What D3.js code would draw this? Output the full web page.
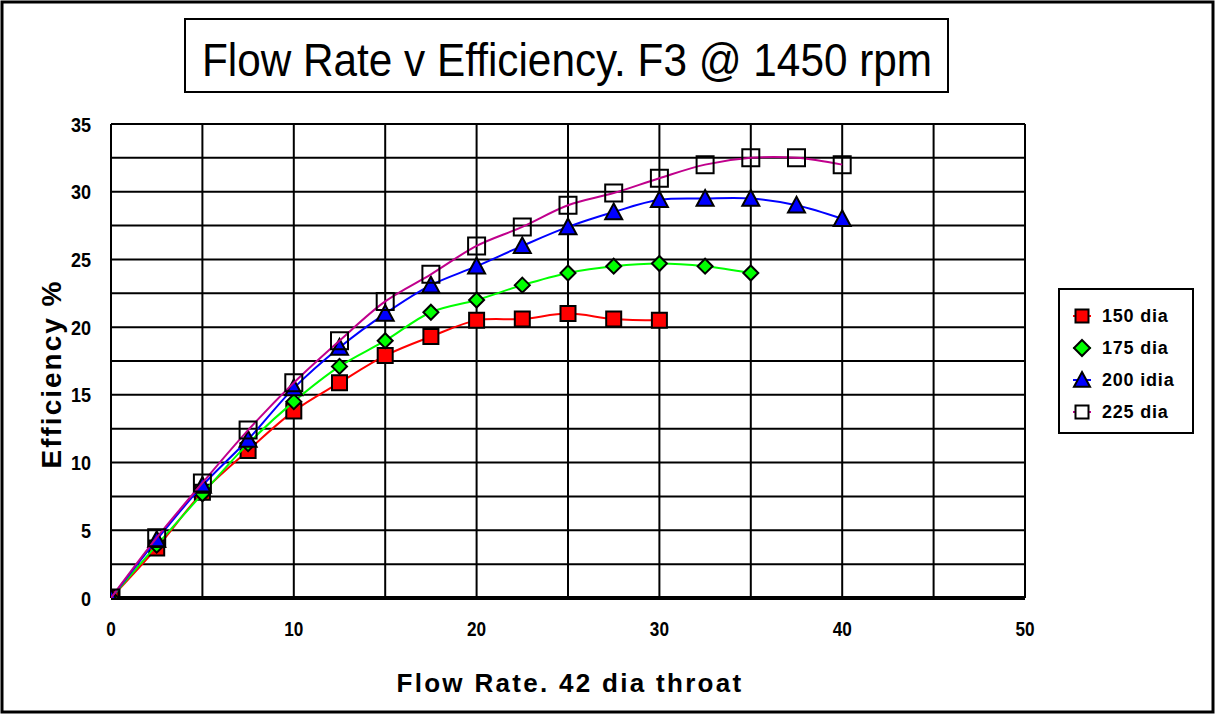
<!DOCTYPE html>
<html>
<head>
<meta charset="utf-8">
<script src="https://cdn.jsdelivr.net/npm/d3@7"></script>
<style>
  body { margin: 0; background: #fff; }
  svg text { font-family: "Liberation Sans", Arial, sans-serif; }
</style>
</head>
<body>
<div id="chart"></div>
<script>
(function(){
	// flow rate values (x) shared by every series
	var flow = [0, 2.5, 5, 7.5, 10, 12.5, 15, 17.5, 20, 22.5, 25, 27.5, 30, 32.5, 35, 37.5, 40];

	var eff150 = [0, 3.7, 7.8, 10.9, 13.8, 15.9, 17.9, 19.3, 20.5, 20.6, 21.0, 20.6, 20.5];
	var eff175 = [0, 3.9, 7.7, 11.4, 14.5, 17.1, 19.0, 21.1, 22.0, 23.1, 24.0, 24.5, 24.7, 24.5, 24.0];
	var eff200 = [0, 4.3, 8.3, 11.7, 15.5, 18.5, 21.0, 23.1, 24.5, 26.0, 27.4, 28.5, 29.4, 29.5, 29.5, 29.0, 28.0];
	var eff225 = [0, 4.45, 8.5, 12.4, 15.9, 19.0, 21.9, 23.9, 26.0, 27.4, 29.0, 29.9, 31.0, 32.0, 32.5, 32.5, 32.0];

	var seriesNames = ["150 dia", "175 dia", "200 idia", "225 dia"];
	var xTicks = [0, 10, 20, 30, 40, 50];
	var yTicks = [0, 5, 10, 15, 20, 25, 30, 35];

	var series = [
		{name: seriesNames[0], vals: eff150, line: "#ff0000", fill: "#ff0000", sym: "square", size: 15},
		{name: seriesNames[1], vals: eff175, line: "#00ff00", fill: "#00ff00", sym: "diamond", size: 15},
		{name: seriesNames[2], vals: eff200, line: "#0000ff", fill: "#0000ff", sym: "triangle", size: 17},
		{name: seriesNames[3], vals: eff225, line: "#c0008c", fill: "none", sym: "square", size: 17}
	];

	var W = 1217, H = 715;
	var plot = {left: 111, top: 124, right: 1025, bottom: 598};

	var svg = d3.select("#chart").append("svg")
		.attr("width", W).attr("height", H);

	// outer frame
	svg.append("rect")
		.attr("x", 2).attr("y", 2).attr("width", 1211).attr("height", 710)
		.attr("fill", "#fff").attr("stroke", "#000").attr("stroke-width", 3);

	svg.append("clipPath").attr("id", "plotclip")
		.append("rect")
		.attr("x", plot.left).attr("y", plot.top - 12)
		.attr("width", plot.right - plot.left).attr("height", plot.bottom - plot.top + 12);

	var x = d3.scaleLinear().domain([0, 50]).range([plot.left, plot.right]);
	var y = d3.scaleLinear().domain([0, 35]).range([plot.bottom, plot.top]);

	// grid
	var g = svg.append("g").attr("class", "grid");
	g.selectAll("line.v")
		.data(d3.range(0, 50.01, 5))
		.enter().append("line")
		.attr("x1", function(d){ return x(d); }).attr("x2", function(d){ return x(d); })
		.attr("y1", plot.top).attr("y2", plot.bottom)
		.attr("stroke", "#000").attr("stroke-width", 2);
	g.selectAll("line.h")
		.data(d3.range(2.5, 35.01, 2.5))
		.enter().append("line")
		.attr("x1", plot.left).attr("x2", plot.right)
		.attr("y1", function(d){ return y(d); }).attr("y2", function(d){ return y(d); })
		.attr("stroke", "#000").attr("stroke-width", 2);
	// baseline
	svg.append("line")
		.attr("x1", plot.left).attr("x2", plot.right)
		.attr("y1", y(0)).attr("y2", y(0))
		.attr("stroke", "#000").attr("stroke-width", 4);

	// tick labels
	svg.append("g").selectAll("text")
		.data(yTicks).enter().append("text")
		.attr("x", 91).attr("y", function(d){ return y(d); })
		.attr("dy", "0.36em")
		.attr("text-anchor", "end")
		.attr("font-size", 21).attr("font-weight", "bold")
		.attr("transform", function(d){ return "translate(91," + y(d) + ") scale(0.86,1) translate(-91," + (-y(d)) + ")"; })
		.text(function(d){ return d; });

	svg.append("g").selectAll("text")
		.data(xTicks).enter().append("text")
		.attr("x", function(d){ return x(d); }).attr("y", 636)
		.attr("text-anchor", "middle")
		.attr("font-size", 20).attr("font-weight", "bold")
		.attr("transform", function(d){ return "translate(" + x(d) + ",0) scale(0.86,1) translate(" + (-x(d)) + ",0)"; })
		.text(function(d){ return d; });

	// axis titles
	svg.append("text")
		.attr("x", 570).attr("y", 692)
		.attr("text-anchor", "middle")
		.attr("font-size", 26).attr("font-weight", "bold")
		.attr("letter-spacing", 2.3)
		.text("Flow Rate. 42 dia throat");

	svg.append("text")
		.attr("transform", "translate(61,374) rotate(-90)")
		.attr("text-anchor", "middle")
		.attr("font-size", 28).attr("font-weight", "bold")
		.attr("letter-spacing", 2)
		.text("Efficiency %");

	// title box
	svg.append("rect")
		.attr("x", 185).attr("y", 19).attr("width", 763).attr("height", 73)
		.attr("fill", "#fff").attr("stroke", "#000").attr("stroke-width", 2);
	svg.append("text")
		.attr("x", 567).attr("y", 76)
		.attr("text-anchor", "middle")
		.attr("font-size", 47)
		.attr("transform", "translate(567,0) scale(0.9,1) translate(-567,0)")
		.text("Flow Rate v Efficiency. F3 @ 1450 rpm");

	function symPath(sym, s) {
		var h = s / 2;
		if (sym === "square") return "M" + (-h) + "," + (-h) + "h" + s + "v" + s + "h" + (-s) + "Z";
		if (sym === "diamond") return "M0," + (-h) + "L" + h + ",0L0," + h + "L" + (-h) + ",0Z";
		if (sym === "triangle") return "M0," + (-h) + "L" + h + "," + (h * 0.85) + "L" + (-h) + "," + (h * 0.85) + "Z";
	}

	var line = d3.line()
		.x(function(d){ return x(d[0]); })
		.y(function(d){ return y(d[1]); })
		.curve(d3.curveCatmullRom);

	series.forEach(function(s) {
		var pts = s.vals.map(function(v, i){ return [flow[i], v]; });
		var sg = svg.append("g").attr("clip-path", "url(#plotclip)");
		sg.append("path")
			.attr("d", line(pts))
			.attr("fill", "none").attr("stroke", s.line).attr("stroke-width", 2);
		sg.selectAll("path.m")
			.data(pts).enter().append("path")
			.attr("transform", function(d){ return "translate(" + x(d[0]) + "," + y(d[1]) + ")"; })
			.attr("d", symPath(s.sym, s.size))
			.attr("fill", s.fill).attr("stroke", "#000").attr("stroke-width", 2);
	});

	// legend
	var lg = svg.append("g");
	lg.append("rect")
		.attr("x", 1059).attr("y", 289).attr("width", 134).attr("height", 144)
		.attr("fill", "#fff").attr("stroke", "#000").attr("stroke-width", 2);
	series.forEach(function(s, i) {
		var ly = 316 + i * 32;
		lg.append("line")
			.attr("x1", 1073).attr("x2", 1091).attr("y1", ly).attr("y2", ly)
			.attr("stroke", s.line).attr("stroke-width", 2);
		lg.append("path")
			.attr("transform", "translate(1082," + ly + ")")
			.attr("d", symPath(s.sym, s.sym === "square" ? 13 : 16))
			.attr("fill", s.fill === "none" ? "#fff" : s.fill)
			.attr("stroke", "#000").attr("stroke-width", 2);
		lg.append("text")
			.attr("x", 1102).attr("y", ly).attr("dy", "0.36em")
			.attr("font-size", 18).attr("font-weight", "bold")
			.attr("letter-spacing", 0.8)
			.text(s.name);
	});
})();
</script>
</body>
</html>
